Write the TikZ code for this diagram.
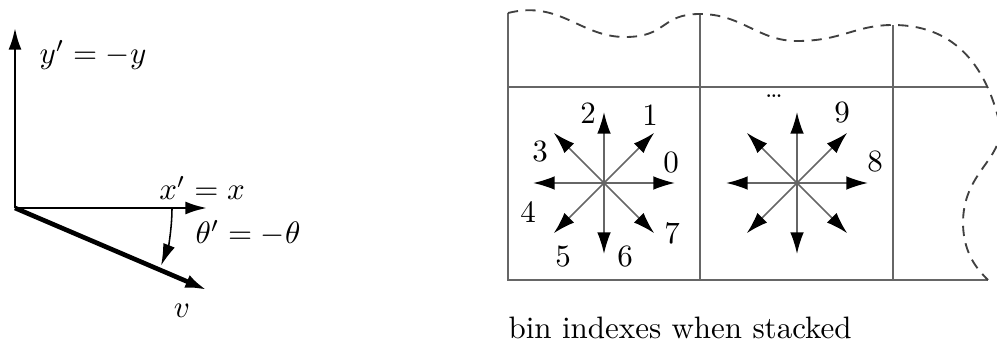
\documentclass[tikz,border=0pt]{standalone}
\usetikzlibrary{arrows.meta}

\begin{document}
\begin{tikzpicture}[
    x=0.01134cm, y=-0.01134cm,
    ax/.style={line width=0.8pt, -{Latex[length=7pt,width=4.2pt]}},
    vec/.style={line width=1.5pt, -{Latex[length=7pt,width=4.4pt]}},
    grid/.style={gray!80!black, line width=0.5pt},
    edge/.style={gray!50!black, line width=0.6pt, dash pattern=on 3.3pt off 2.4pt},
    dir/.style={gray!80!black, line width=0.5pt, -{Latex[length=7pt,width=4.4pt,black]}},
    lbl/.style={inner sep=0pt},
  ]
    \useasboundingbox (0,0) rectangle (997,345);

    % rotated frame
    \coordinate (O)    at (15,208);
    \coordinate (yend) at (15,28);
    \coordinate (xend) at (207,208);
    \coordinate (vend) at (207,290);
    \draw[ax]  (O) -- (yend);
    \draw[ax]  (O) -- (xend);
    \draw[vec] (O) -- (vend);
    \draw[line width=0.5pt, -{Latex[length=7pt,width=4pt]}] (O) ++(0:157) arc (0:21.5:157);

    \node[lbl] (ylbl) at (93,55)   {$y' = -y$};
    \node[lbl] (xlbl) at (202,188) {$x' = x$};
    \node[lbl] (tlbl) at (248,233) {$\theta' = -\theta$};
    \node[lbl] (vlbl) at (182,311) {$v$};

    % stacked bins
    \draw[grid] (508,13) -- (508,280) -- (988,280);
    \draw[grid] (700,14) -- (700,280);
    \draw[grid] (893,25) -- (893,280);
    \draw[grid] (508,87) -- (988,87);
    \draw[edge] (508,13) .. controls (560,0) and (580,37) .. (625,37)
                .. controls (668,37) and (660,14) .. (700,14)
                .. controls (742,14) and (758,41) .. (797,41)
                .. controls (842,41) and (855,25) .. (893,25)
                .. controls (950,25) and (985,60) .. (1000,125)
                .. controls (1004,160) and (962,172) .. (963,225)
                .. controls (964,255) and (978,270) .. (988,280);

    \coordinate (c1) at (604,183);
    \coordinate (c2) at (797,183);
    \foreach \a in {0,45,...,315} {
      \draw[dir] (c1) -- ++(\a:71);
      \draw[dir] (c2) -- ++(\a:71);
    }

    \node[lbl] (b0) at (671,163) {0};
    \node[lbl] (b1) at (650,115) {1};
    \node[lbl] (b2) at (588,113) {2};
    \node[lbl] (b3) at (540,152) {3};
    \node[lbl] (b4) at (528,212) {4};
    \node[lbl] (b5) at (563,257) {5};
    \node[lbl] (b6) at (625,257) {6};
    \node[lbl] (b7) at (672,233) {7};
    \node[lbl] (b8) at (875,162) {8};
    \node[lbl] (b9) at (842,113) {9};
    \node[lbl, font=\footnotesize] (bdots) at (774,96) {\dots};

    \node[lbl, anchor=west] (cap) at (508,328) {bin indexes when stacked};
\end{tikzpicture}
\end{document}
